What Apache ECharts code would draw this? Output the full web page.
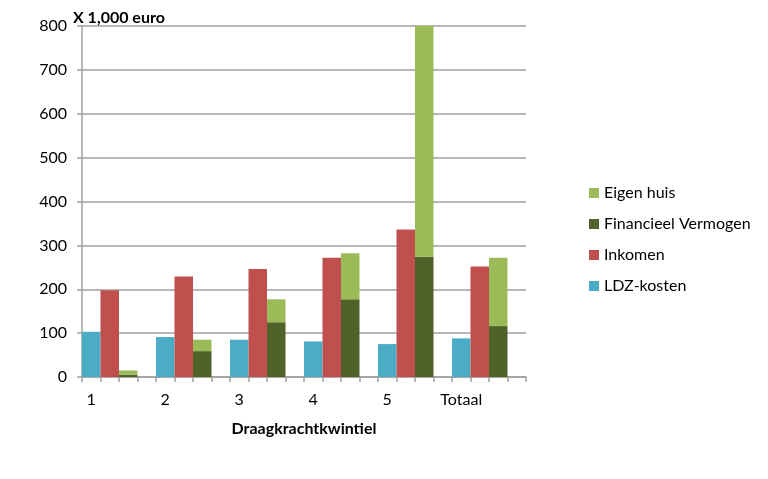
<!DOCTYPE html>
<html>
<head>
<meta charset="utf-8">
<script src="https://cdn.jsdelivr.net/npm/echarts@6/dist/echarts.min.js"></script>
<style>html,body{margin:0;padding:0;background:#fff}#c{width:768px;height:479px}</style>
</head>
<body>
<div id="c"></div>
<script>
const categories = ['1', '2', '3', '4', '5', 'Totaal'];
const ldzKosten = [103, 91, 85, 81, 75, 88];
const inkomen = [198, 229, 246, 272, 336, 252];
const financieelVermogen = [5, 59, 125, 177, 274, 116];
const eigenHuis = [10, 26, 52, 105, 570, 156];
const yTicks = [0, 100, 200, 300, 400, 500, 600, 700, 800];

const FONT = 'Lato';
const slotsPerGroup = 4;
const nSlots = categories.length * slotsPerGroup;
const slotLabels = [];
for (let i = 0; i < nSlots; i++) slotLabels.push(i % slotsPerGroup === 0 ? categories[i / slotsPerGroup] : ' ' + i);
function place(values, offset) {
  const arr = new Array(nSlots).fill(null);
  values.forEach((v, i) => { arr[i * slotsPerGroup + offset] = v; });
  return arr;
}

const chart = echarts.init(document.getElementById('c'), null, {renderer: 'canvas'});
const barCommon = {type: 'bar', barWidth: '100%', barGap: '-100%', barCategoryGap: 0, animation: false};
chart.setOption({
  animation: false,
  textStyle: {fontFamily: FONT},
  title: {
    text: 'X 1,000 euro', left: 68, top: 5,
    textStyle: {fontFamily: FONT, fontSize: 16, fontWeight: 'bold', color: '#000'}
  },
  grid: {left: 82, right: 242, top: 26, bottom: 102, containLabel: false},
  legend: {
    orient: 'vertical', left: 584, top: 180,
    itemWidth: 10, itemHeight: 10, itemGap: 15,
    icon: 'rect',
    textStyle: {fontFamily: FONT, fontSize: 16, color: '#000', padding: [0, 0, 0, 0]},
    data: ['Eigen huis', 'Financieel Vermogen', 'Inkomen', 'LDZ-kosten']
  },
  xAxis: {
    type: 'category', data: slotLabels,
    name: 'Draagkrachtkwintiel', nameLocation: 'middle', nameGap: 44,
    nameTextStyle: {fontFamily: FONT, fontSize: 16, fontWeight: 'bold', color: '#000'},
    axisLine: {lineStyle: {color: '#a0a0a0', width: 1.5}},
    axisTick: {show: true, interval: 0, length: 5, lineStyle: {color: '#a0a0a0', width: 1.5}},
    axisLabel: {
      interval: 0, margin: 15, fontFamily: FONT, fontSize: 16, color: '#000',
      formatter: v => (v.charAt(0) === ' ' ? '' : v)
    },
    splitLine: {show: false}
  },
  yAxis: {
    type: 'value', min: yTicks[0], max: yTicks[yTicks.length - 1], interval: 100,
    axisLine: {show: true, lineStyle: {color: '#a0a0a0', width: 1.5}},
    axisTick: {show: true, length: 5, lineStyle: {color: '#a0a0a0', width: 1.5}},
    axisLabel: {margin: 15, fontFamily: FONT, fontSize: 16, color: '#000'},
    splitLine: {lineStyle: {color: '#a0a0a0', width: 1.5}}
  },
  series: [
    Object.assign({}, barCommon, {name: 'LDZ-kosten', data: place(ldzKosten, 0), itemStyle: {color: '#4BACC6'}}),
    Object.assign({}, barCommon, {name: 'Inkomen', data: place(inkomen, 1), itemStyle: {color: '#C0504D'}}),
    Object.assign({}, barCommon, {name: 'Financieel Vermogen', stack: 'v', data: place(financieelVermogen, 2), itemStyle: {color: '#4F6228'}}),
    Object.assign({}, barCommon, {name: 'Eigen huis', stack: 'v', data: place(eigenHuis, 2), itemStyle: {color: '#9BBB59'}})
  ]
});
</script>
</body>
</html>
